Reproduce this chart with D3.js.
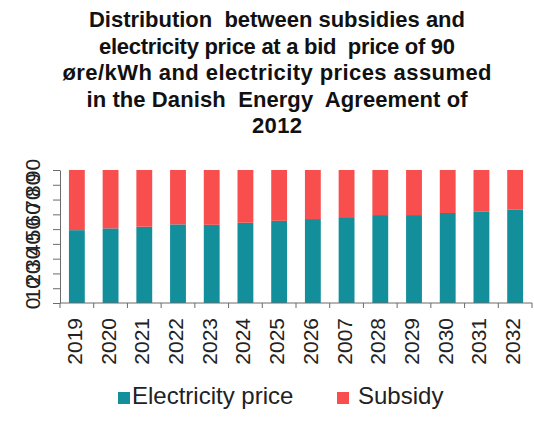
<!DOCTYPE html>
<html><head><meta charset="utf-8">
<script src="https://cdn.jsdelivr.net/npm/d3@7"></script>
<style>body{margin:0;background:#fff}svg{display:block}</style>
</head><body>
<script>
const titleLines = ["Distribution  between subsidies and","electricity price at a bid  price of 90","øre/kWh and electricity prices assumed","in the Danish  Energy  Agreement of","2012"];
const titleWidths = [376,356,429,381,50];
const categories = ["2019","2020","2021","2022","2023","2024","2025","2026","2007","2028","2029","2030","2031","2032"];
const electricityPrice = [49.3,50.5,51.6,53.2,52.9,54.3,55.6,56.8,58.1,59.5,59.5,60.9,61.7,63.1];
const subsidy = [40.7,39.5,38.4,36.8,37.1,35.7,34.4,33.2,31.9,30.5,30.5,29.1,28.3,26.9];
const yTicks = [0,10,20,30,40,50,60,70,80,90];
const seriesNames = ["Electricity price","Subsidy"];
const colors = ["#138e9b","#f84e4e"];

const W=534,H=421;
const svg=d3.select("body").append("svg").attr("width",W).attr("height",H);
const font="'Liberation Sans', Arial, sans-serif";

// title
svg.append("g").selectAll("text").data(titleLines).join("text")
  .attr("x",277).attr("y",(d,i)=>27+i*26.5)
  .attr("text-anchor","middle").attr("font-family",font).attr("font-weight","bold")
  .attr("font-size","22px").attr("fill","#111")
  .attr("textLength",(d,i)=>titleWidths[i]).attr("lengthAdjust","spacing")
  .style("white-space","pre").text(d=>d);

const x0=60,x1=532,yTop=170,yBot=303;
const x=d3.scaleBand().domain(categories).range([x0,x1]).paddingInner(0.53).paddingOuter(0.265);
const y=d3.scaleLinear().domain([0,90]).range([yBot,yTop]);

const rows=categories.map((c,i)=>({cat:c,e:electricityPrice[i],s:subsidy[i]}));
const stack=d3.stack().keys(["e","s"])(rows);
svg.append("g").selectAll("g").data(stack).join("g").attr("fill",(d,i)=>colors[i])
  .selectAll("rect").data(d=>d).join("rect")
  .attr("x",d=>x(d.data.cat)).attr("width",x.bandwidth())
  .attr("y",d=>y(d[1])).attr("height",d=>y(d[0])-y(d[1]));

const axisColor="#6b6b6b";
// y axis
const ya=svg.append("g").attr("transform",`translate(${x0},0)`)
  .call(d3.axisLeft(y).tickValues(yTicks).tickSize(7).tickSizeOuter(0));
ya.select(".domain").attr("stroke",axisColor);
ya.selectAll(".tick line").attr("stroke",axisColor);
ya.selectAll(".tick text").attr("font-family",font).attr("font-size","21px").attr("fill","#222")
  .attr("text-anchor","middle").attr("x",null).attr("dy",null)
  .attr("transform","translate(-20,0) rotate(-90)");

// x axis
const xa=svg.append("g").attr("transform",`translate(0,${yBot})`);
xa.append("line").attr("x1",x0).attr("x2",x1).attr("stroke",axisColor);
xa.selectAll("line.tk").data(d3.range(categories.length+1)).join("line").attr("class","tk")
  .attr("x1",i=>x0+i*(x1-x0)/categories.length).attr("x2",i=>x0+i*(x1-x0)/categories.length)
  .attr("y1",0).attr("y2",5).attr("stroke",axisColor);
xa.selectAll("text").data(categories).join("text")
  .attr("transform",d=>`translate(${x(d)+x.bandwidth()/2+5},15) rotate(-90)`)
  .attr("text-anchor","end").attr("font-family",font).attr("font-size","21px").attr("fill","#222")
  .text(d=>d);

// legend
const leg=svg.append("g");
const legX=[118,337], legTextX=[132,358];
seriesNames.forEach((n,i)=>{
  leg.append("rect").attr("x",legX[i]).attr("y",392).attr("width",12).attr("height",12).attr("fill",colors[i]);
  leg.append("text").attr("x",legTextX[i]).attr("y",404).attr("font-family",font).attr("font-size","24px").attr("fill","#222").text(n);
});
</script>
</body></html>
